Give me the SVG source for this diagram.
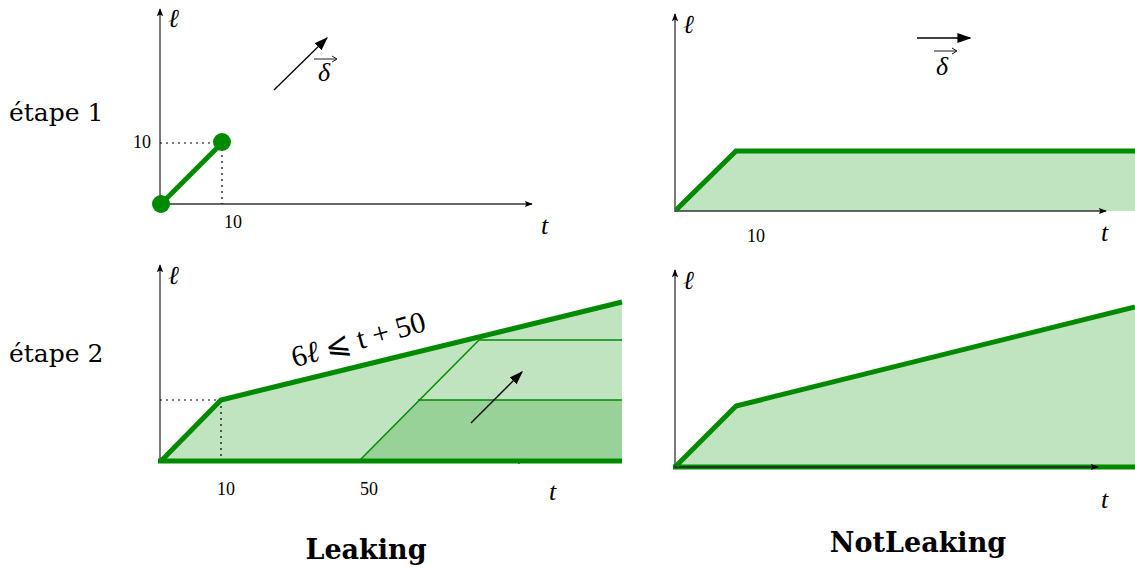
<svg xmlns="http://www.w3.org/2000/svg" width="1135" height="567" viewBox="0 0 1135 567">
<defs>
<marker id="ah" viewBox="0 0 10 10" refX="9" refY="5" markerWidth="8" markerHeight="8" markerUnits="userSpaceOnUse" orient="auto"><path d="M0,1 L10,5 L0,9 L2,5 z" fill="#000"/></marker>
<marker id="ahb" viewBox="0 0 10 10" refX="9" refY="5" markerWidth="14" markerHeight="14" markerUnits="userSpaceOnUse" orient="auto"><path d="M0,1.5 L10,5 L0,8.5 z" fill="#000"/></marker>
<style>
.axis{stroke:#333;stroke-width:1.3;fill:none;marker-end:url(#ah)}
.g{stroke:#008a00;stroke-width:5;fill:none;stroke-linejoin:miter}
.fill{fill:#c0e4c0;stroke:none}
.dark{fill:#99d299;stroke:none}
.thin{stroke:#008a00;stroke-width:1.5;fill:none}
.dot{stroke:#000;stroke-width:1.2;stroke-dasharray:2,4;fill:none}
.vec{stroke:#000;stroke-width:1.3;fill:none;marker-end:url(#ahb)}
.m{font-family:"Liberation Serif",serif;font-style:italic;font-size:26px;fill:#000}
.n{font-family:"Liberation Serif",serif;font-size:18px;fill:#000}
.lbl{font-family:"DejaVu Serif",serif;font-size:25px;fill:#000}
.ttl{font-family:"DejaVu Serif",serif;font-size:27px;font-weight:bold;fill:#000}
.eq{font-family:"Liberation Serif",serif;font-size:30px;fill:#000}
</style>
</defs>

<g id="labels">
<text class="lbl" x="9" y="121">étape 1</text>
<text class="lbl" x="9" y="362">étape 2</text>
<text class="ttl" x="366" y="559" text-anchor="middle">Leaking</text>
<text class="ttl" x="918" y="552" text-anchor="middle">NotLeaking</text>
</g>

<g id="panel1">
<line class="axis" x1="160" y1="205" x2="160" y2="9"/>
<line class="axis" x1="160" y1="204" x2="532" y2="204"/>
<text class="m" x="168" y="27">ℓ</text>
<text class="m" x="541" y="234">t</text>
<line class="dot" x1="160" y1="143" x2="222" y2="143"/>
<line class="dot" x1="222" y1="143" x2="222" y2="204"/>
<line x1="161" y1="204" x2="222" y2="143" stroke="#008a00" stroke-width="5"/>
<circle cx="161" cy="204" r="9" fill="#008a00"/>
<circle cx="222" cy="142" r="9" fill="#008a00"/>
<text class="n" x="142" y="148" text-anchor="middle">10</text>
<text class="n" x="233" y="228" text-anchor="middle">10</text>
<line class="vec" x1="274" y1="90" x2="327" y2="38"/>
<text class="m" x="318" y="81" font-size="24">δ</text>
<line x1="314" y1="59" x2="336" y2="59" stroke="#000" stroke-width="0.9"/>
<path d="M332,56 L337,59 L332,62" stroke="#000" stroke-width="0.9" fill="none"/>
</g>

<g id="panel2">
<polygon class="fill" points="675,211 736,151 1135,151 1135,211"/>
<line class="axis" x1="675" y1="212" x2="675" y2="14"/>
<line class="axis" x1="675" y1="211" x2="1106" y2="211"/>
<polyline class="g" points="676,210 736,151 1135,151" stroke-width="6"/>
<text class="m" x="683" y="33">ℓ</text>
<text class="m" x="1101" y="241">t</text>
<text class="n" x="756" y="242" text-anchor="middle">10</text>
<line class="vec" x1="917" y1="38" x2="970" y2="38"/>
<text class="m" x="936" y="75" font-size="24">δ</text>
<line x1="934" y1="51" x2="956" y2="51" stroke="#000" stroke-width="0.9"/>
<path d="M952,48 L957,51 L952,54" stroke="#000" stroke-width="0.9" fill="none"/>
</g>

<g id="panel3">
<line class="axis" x1="160" y1="462" x2="160" y2="265"/>
<line class="axis" x1="160" y1="461" x2="525" y2="461"/>
<polygon class="fill" points="160,461 221,400 622,302 622,461"/>
<polygon class="dark" points="359,461 420,400 622,400 622,461"/>
<line class="thin" x1="359" y1="461" x2="479" y2="340"/>
<line class="thin" x1="479" y1="340" x2="622" y2="340"/>
<line class="thin" x1="418" y1="400" x2="622" y2="400"/>
<line class="dot" x1="160" y1="400" x2="221" y2="400"/>
<line class="dot" x1="221" y1="400" x2="221" y2="461"/>
<polyline class="g" points="161,461 221,400 622,302"/>
<line x1="158" y1="461" x2="622" y2="461" stroke="#008a00" stroke-width="5"/>
<text class="m" x="168" y="284">ℓ</text>
<text class="n" x="226" y="495" text-anchor="middle">10</text>
<text class="n" x="369" y="495" text-anchor="middle">50</text>
<text class="m" x="549" y="500">t</text>
<line class="vec" x1="471" y1="423" x2="522" y2="372"/>
<text class="eq" x="361" y="349" text-anchor="middle" transform="rotate(-15.5 361 349)">6<tspan font-style="italic">ℓ</tspan> ⩽ t + 50</text>
</g>

<g id="panel4">
<polygon class="fill" points="675,467 736,406 1135,307 1135,467"/>
<line x1="673" y1="467" x2="1135" y2="467" stroke="#008a00" stroke-width="5"/>
<line class="axis" x1="675" y1="468" x2="675" y2="270"/>
<line class="axis" x1="675" y1="467" x2="1098" y2="467" style="stroke:#222"/>
<polyline class="g" points="676,466 736,406 1135,307"/>
<text class="m" x="683" y="289">ℓ</text>
<text class="m" x="1101" y="508">t</text>
</g>
</svg>
